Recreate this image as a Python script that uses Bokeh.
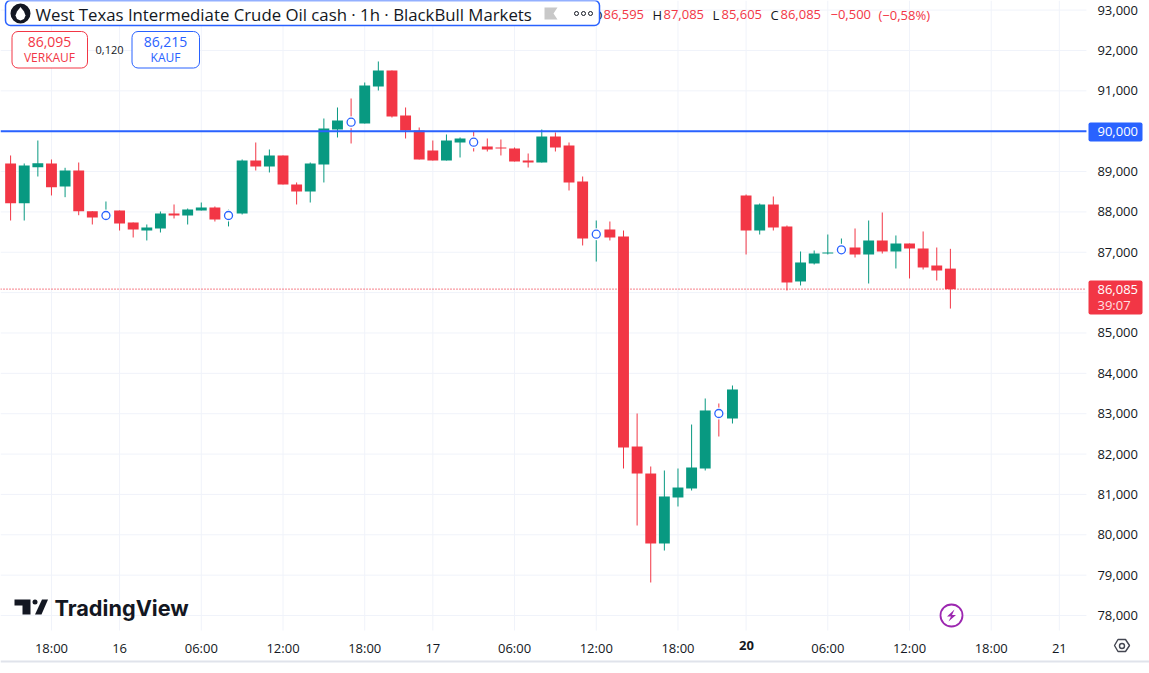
from bokeh.plotting import figure
from bokeh.models import (ColumnDataSource, FixedTicker, Label, BoxAnnotation, PolyAnnotation)
from bokeh.embed import file_html
from bokeh.resources import INLINE

opens = [89200,88216,89108,89200,88629,89026,88018,87900,88035,87738,87539,87589,87961,87911,88035,88109,87900,87961,89274,89125,
         89398,88679,88506,89175,90042,90240,90190,91107,91504,90389,90017,89522,89274,89720,89740,89621,89596,89571,89274,89224,
         89868,89646,88753,87440,87564,87391,82187,81518,79784,80924,81147,81642,83020,82881,88407,87539,88184,87638,86276,86722,
         86969,87050,87118,86945,87292,87019,87217,87093,86672,86595]
highs = [89398,89200,89769,89299,89093,89224,88018,88258,88035,87738,87688,88010,88184,88084,88233,88134,88060,89299,89720,89546,
         89398,88729,89224,90314,90587,90810,91206,91727,91504,90587,90091,89769,89918,89844,89992,89819,89794,89596,89447,90042,
         89968,89720,88877,87787,87762,87539,83005,81692,81593,81642,82732,83377,83253,83699,88431,88208,88382,87663,87019,87044,
         87440,87341,87589,87787,87985,87416,87217,87515,87118,87085]
lows = [87787,87787,88877,88407,88365,87918,87688,87880,87539,87366,87292,87490,87837,87688,88035,87762,87640,87936,89026,88977,
        88679,88184,88233,88729,89844,89695,90190,91008,90339,89819,89299,89274,89274,89348,89497,89497,89398,89249,89100,89224,
        89497,88530,87168,86770,87292,81642,80230,78818,79610,80701,81097,81593,82435,82757,86945,87440,87539,86053,86177,86697,
        86945,87040,86870,86226,86969,86598,86350,86573,86300,85605]
closes = [88216,89150,89207,88612,89026,88018,87861,87925,87713,87564,87614,87961,87911,88060,88109,87812,87925,89274,89125,89398,
          88679,88506,89200,90067,90265,90210,91132,91504,90364,90017,89299,89274,89769,89819,89715,89546,89571,89249,89224,89868,
          89596,88729,87341,87460,87366,82163,81518,79784,80949,81171,81667,83080,82990,83600,87539,88184,87614,86251,86747,86969,
          86994,87075,86945,87292,87019,87217,87093,86623,86548,86085]
marker_index = [7,16,25,34,43,52,61]
marker_price = [87911,87911,90223,89727,87448,83005,87061]
price_ticks = [78000,79000,80000,81000,82000,83000,84000,85000,86000,87000,88000,89000,90000,91000,92000,93000]
price_labels = ["78,000","79,000","80,000","81,000","82,000","83,000","84,000","85,000","86,000","87,000","88,000","89,000","","91,000","92,000","93,000"]
time_ticks = [3,8,14,20,26,31,37,43,49,54,60,66,72,77]
time_labels = ["18:00","16","06:00","12:00","18:00","17","06:00","12:00","18:00","","06:00","12:00","18:00","21"]
level_price = 90000
last_price = 86085

RED = "#f23645"; GREEN = "#089981"; BLUE = "#2962ff"; GRID = "#f0f3fa"; INK = "#131722"
FONT = "Open Sans"

# pane edges, in data units: the time scale starts under the pane, the price scale right of it
PANE_LEFT, PANE_RIGHT = -0.742, 78.99
PANE_BOTTOM, PANE_TOP = 77628, 93238

p = figure(width=1149, height=673, output_backend="svg", toolbar_location=None,
           x_range=(PANE_LEFT, 83.62), y_range=(76563, PANE_TOP), y_axis_location="right",
           min_border_left=0, min_border_top=0, min_border_right=0, min_border_bottom=0,
           outline_line_color=None, background_fill_color="white", border_fill_color="white")
p.xgrid.visible = False
p.ygrid.visible = False

# grid restricted to the pane
p.segment(time_ticks, [PANE_BOTTOM] * len(time_ticks), time_ticks, [PANE_TOP] * len(time_ticks),
          line_color=GRID, line_width=1)
p.segment([PANE_LEFT] * len(price_ticks), price_ticks, [PANE_RIGHT] * len(price_ticks), price_ticks,
          line_color=GRID, line_width=1)

n = len(opens)
idx = list(range(n))
colors = [GREEN if c >= o else RED for o, c in zip(opens, closes)]
src = ColumnDataSource(dict(i=idx, o=opens, h=highs, l=lows, c=closes, col=colors))
p.segment("i", "h", "i", "l", source=src, line_color="col", line_width=1)
p.vbar("i", 0.8, "o", "c", source=src, fill_color="col", line_color=None)

msrc = ColumnDataSource(dict(i=marker_index, y=marker_price))
p.scatter("i", "y", source=msrc, size=12, fill_color="white", line_color=None)
p.scatter("i", "y", source=msrc, size=8, fill_color="white", line_color=BLUE, line_width=1.3)

p.segment([PANE_LEFT], [level_price], [PANE_RIGHT], [level_price], line_color=BLUE, line_width=2)
last_line = p.segment([PANE_LEFT], [last_price], [PANE_RIGHT], [last_price], line_color=RED, line_width=1.3)
last_line.glyph.line_dash = "1 2"

xa = p.xaxis[0]
xa.fixed_location = PANE_BOTTOM
xa.ticker = FixedTicker(ticks=time_ticks)
xa.major_label_overrides = dict(zip(time_ticks, time_labels))
xa.axis_line_color = None; xa.major_tick_line_color = None; xa.minor_tick_line_color = None
xa.major_tick_out = 0; xa.major_tick_in = 0
xa.major_label_text_font = FONT; xa.major_label_text_font_size = "13px"; xa.major_label_text_color = INK
xa.major_label_standoff = 8
ya = p.yaxis[0]
ya.fixed_location = PANE_RIGHT
ya.ticker = FixedTicker(ticks=price_ticks)
ya.major_label_overrides = dict(zip(price_ticks, price_labels))
ya.axis_line_color = None; ya.major_tick_line_color = None; ya.minor_tick_line_color = None
ya.major_tick_out = 0; ya.major_tick_in = 0
ya.major_label_text_font = FONT; ya.major_label_text_font_size = "13px"; ya.major_label_text_color = INK
ya.major_label_standoff = 11


def box(l, t, r, b, fill=None, line=None, lw=1, rad=0):
    p.add_layout(BoxAnnotation(left=l, right=r, top=t, bottom=b,
                               left_units="canvas", right_units="canvas", top_units="canvas", bottom_units="canvas",
                               fill_color=fill, fill_alpha=1 if fill else 0, line_color=line, line_width=lw,
                               line_alpha=1 if line else 0, border_radius=rad, editable=False))


def poly(pts, fill=None, line=None, lw=1):
    p.add_layout(PolyAnnotation(xs=[a for a, _ in pts], ys=[b for _, b in pts],
                                xs_units="canvas", ys_units="canvas",
                                fill_color=fill, fill_alpha=1 if fill else 0, line_color=line, line_width=lw,
                                line_alpha=1 if line else 0))


def text(x, y, s, color=INK, size=13, align="left", weight="normal", font=FONT):
    p.add_layout(Label(x=x, y=y, x_units="canvas", y_units="canvas", text=s, text_color=color,
                       text_font=font, text_font_size=f"{size}px", text_align=align, text_baseline="middle",
                       text_font_style=weight))


# time-axis bold day label and bottom rule
text(746, 645, "20", size=13, align="center", weight="bold")
box(0, 660, 1149, 662, fill="#e0e3eb")

# OHLC "O", partly hidden by the title chip as in the original
text(592, 14, "O", INK, 13)

# legend title chip
box(5, 0, 599, 25, fill="white", line=BLUE, lw=1.5, rad=5)
box(10, 3, 30, 23, fill="#131722", rad=10)
poly([(20, 6.5), (23.5, 11), (25, 15), (23.5, 18.5), (20, 20), (16.5, 18.5), (15, 15), (16.5, 11)], fill="white")
text(35, 14, "West Texas Intermediate Crude Oil cash · 1h · BlackBull Markets", size=16.8)
poly([(544, 7), (557, 7), (553, 13), (557, 19), (544, 19)], fill="#c8c8c8")
for c0 in (576, 583, 590):
    box(c0 - 2, 11, c0 + 2, 15, fill="white", line=INK, lw=1, rad=2)

# OHLC row
for x0, s, c in [(603, "86,595", RED), (652, "H", INK), (663, "87,085", RED), (712, "L", INK), (721, "85,605", RED),
                 (770, "C", INK), (780, "86,085", RED), (830, "−0,500", RED), (878, "(−0,58%)", RED)]:
    text(x0, 14, s, c, size=13)

# buy / sell chips
box(11.5, 31, 87, 67.5, fill="white", line=RED, lw=1, rad=6)
text(49, 41, "86,095", RED, 14, "center")
text(49, 57, "VERKAUF", RED, 12, "center")
text(109, 49, "0,120", INK, 11, "center")
box(131.5, 31, 199, 67.5, fill="white", line=BLUE, lw=1, rad=6)
text(165, 41, "86,215", BLUE, 14, "center")
text(165, 57, "KAUF", BLUE, 12, "center")

# price-axis tags
box(1088, 122, 1142, 141, fill=BLUE, rad=2)
text(1097, 131, "90,000", "white", 13)
box(1088, 280, 1142, 314, fill=RED, rad=2)
text(1097, 289, "86,085", "white", 13)
text(1097, 304, "39:07", "#ffe0e3", 13)

# TradingView logo
poly([(14, 599), (30, 599), (30, 614), (22, 614), (22, 605), (14, 605)], fill="#131722")
box(32, 599, 37, 604, fill="#131722", rad=3)
poly([(41.5, 599), (47.5, 599), (41, 614), (34.5, 614)], fill="#131722")
text(54, 607, "TradingView", "#131722", 21.7, "left", "bold", "Inter")

# lightning icon
box(940, 604, 962, 626, fill="white", line="#9c27b0", lw=1.8, rad=11)
poly([(954, 609), (946.5, 616), (950.5, 616), (948, 621), (955.5, 614.5), (951.5, 614.5)], fill="#9c27b0")

# settings hexagon
poly([(1114, 645), (1117.5, 639), (1125, 639), (1129, 645), (1125, 651), (1117.5, 651)], fill="white", line="#434651", lw=1.4)
box(1119, 643, 1124, 648, fill="white", line="#434651", lw=1.4, rad=3)

open("out.html", "w").write(file_html(p, INLINE))
